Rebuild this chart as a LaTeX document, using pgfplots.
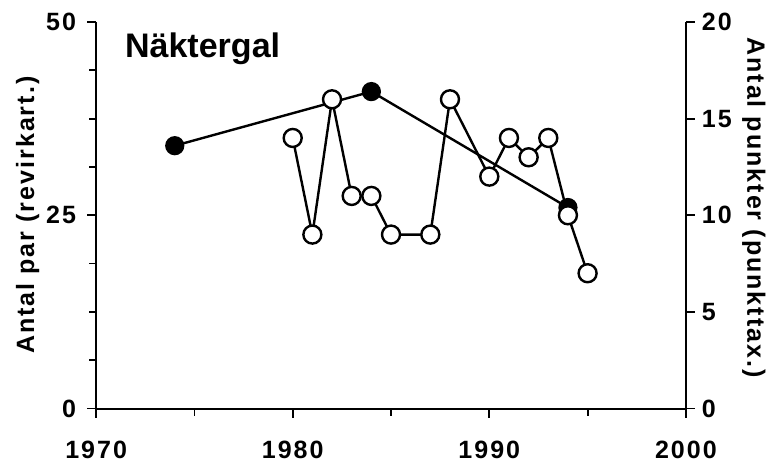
\documentclass[border=0pt]{standalone}
\usepackage{fontspec}
\setmainfont{Liberation Sans}
\newfontfamily\spaced[LetterSpace=8]{Liberation Sans}
\usepackage{pgfplots}
\pgfplotsset{compat=1.18}

\begin{document}
\begin{tikzpicture}
\pgfplotsset{
  every axis/.append style={
    scale only axis, width=294.5pt, height=193pt,
    xmin=1970, xmax=2000,
    /pgf/number format/assume math mode=true,
    /pgf/number format/1000 sep={},
    tick label style={font=\spaced\bfseries\fontsize{12.5}{14}\selectfont},
    label style={font=\spaced\bfseries\fontsize{12.5}{14}\selectfont},
    axis line style={line width=1pt},
    tick style={line width=0.9pt, black},
    tick align=outside,
    major tick length=4.5pt, minor tick length=3.5pt,
    clip=false,
  },
}
% Revirkartering (left axis)
\begin{axis}[name=ax,
  axis y line*=left, axis x line*=bottom,
  ymin=0, ymax=50, ytick={0,25,50}, minor y tick num=3,
  xtick={1970,1980,1990,2000}, minor x tick num=1,
  xticklabel style={yshift=-8pt},
  yticklabel style={xshift=-2pt},
  ylabel={Antal par (revirkart.)},
  ylabel style={at={(axis description cs:-0.116,0.5)}, anchor=center},
]
\addplot[black, line width=1.2pt, mark=*, mark size=4.2pt, mark options={fill=black}]
  coordinates {(1974,34) (1984,41) (1994,26)};
\node[anchor=base west, font=\bfseries\fontsize{17}{20}\selectfont]
  at (axis description cs:0.037,0.907) {Näktergal};
\end{axis}
% Punkttaxering (right axis)
\begin{axis}[
  axis y line*=right, axis x line=none,
  ymin=0, ymax=20, ytick={0,5,10,15,20},
  ylabel={Antal punkter (punkttax.)},
  ylabel style={at={(axis description cs:1.115,0.52)}, anchor=center, rotate=180},
]
\addplot[black, line width=1.2pt, mark=*, mark size=4.5pt, mark options={fill=white}]
  coordinates {(1980,14) (1981,9) (1982,16) (1983,11) (1984,11) (1985,9) (1987,9)
               (1988,16) (1990,12) (1991,14) (1992,13) (1993,14) (1994,10) (1995,7)};
\end{axis}
\pgfresetboundingbox
\path ([shift={(-48pt,-29.5pt)}]ax.south west) rectangle ([shift={(44.5pt,11pt)}]ax.north east);
\end{tikzpicture}
\end{document}
